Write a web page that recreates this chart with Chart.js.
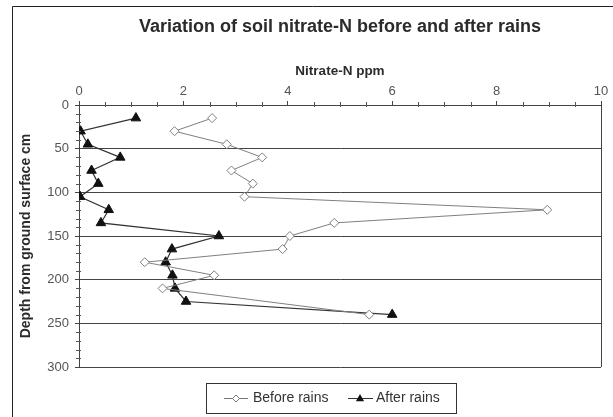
<!DOCTYPE html>
<html>
<head>
<meta charset="utf-8">
<script src="https://cdn.jsdelivr.net/npm/chart.js@4.4.1/dist/chart.umd.min.js"></script>
<style>
    html, body { margin: 0; padding: 0; background: #fff; }
    #wrap { position: relative; width: 613px; height: 417px; }
</style>
</head>
<body>
<div id="wrap"><canvas id="chart" width="613" height="417"></canvas></div>
<script>
// depth below ground surface (cm)
var depthBefore = [15, 30, 45, 60, 75, 90, 105, 120, 135, 150, 165, 180, 195, 210, 240];
var depthAfter = [15, 30, 45, 60, 75, 90, 105, 120, 135, 150, 165, 180, 195, 210, 225, 240];
// nitrate-N ppm
var nitrateBefore = [2.55, 1.83, 2.83, 3.51, 2.92, 3.33, 3.17, 8.97, 4.89, 4.04, 3.90, 1.26, 2.59, 1.60, 5.56];
var nitrateAfter = [1.09, 0.03, 0.17, 0.79, 0.24, 0.37, 0.02, 0.57, 0.42, 2.68, 1.78, 1.66, 1.79, 1.84, 2.05, 6.00];
var seriesNames = ["Before rains", "After rains"];
var chartTitle = "Variation of soil nitrate-N before and after rains";
var xTitle = "Nitrate-N ppm";
var yTitle = "Depth from ground surface cm";

var FONT = '"Liberation Sans", Arial, sans-serif';

function toPoints(xs, ys) {
    var pts = [];
    for (var i = 0; i < xs.length; i++) {
        pts.push({ x: xs[i], y: ys[i] });
    }
    return pts;
}

function diamond(ctx, x, y, r) {
    ctx.beginPath();
    ctx.moveTo(x, y - r);
    ctx.lineTo(x + r, y);
    ctx.lineTo(x, y + r);
    ctx.lineTo(x - r, y);
    ctx.closePath();
}

function triangle(ctx, x, y, r) {
    ctx.beginPath();
    ctx.moveTo(x, y - r);
    ctx.lineTo(x + r * 0.9, y + r * 0.6);
    ctx.lineTo(x - r * 0.9, y + r * 0.6);
    ctx.closePath();
}

var decor = {
    id: 'decor',
    beforeDraw: function (chart) {
        var ctx = chart.ctx;
        ctx.save();
        ctx.fillStyle = '#fff';
        ctx.fillRect(0, 0, chart.width, chart.height);
        //outer frame, only left and top edges are visible
        ctx.strokeStyle = '#222';
        ctx.lineWidth = 1;
        ctx.beginPath();
        ctx.moveTo(12.5, chart.height);
        ctx.lineTo(12.5, 6.5);
        ctx.lineTo(chart.width, 6.5);
        ctx.stroke();
        ctx.restore();
    },
    afterDraw: function (chart) {
        var ctx = chart.ctx;
        var a = chart.chartArea;
        var xs = chart.scales.x, ys = chart.scales.y;
        ctx.save();
        //plot border right and bottom
        ctx.strokeStyle = '#444';
        ctx.lineWidth = 1;
        ctx.beginPath();
        ctx.moveTo(Math.round(a.right) + 0.5, a.top);
        ctx.lineTo(Math.round(a.right) + 0.5, a.bottom);
        ctx.stroke();

        //minor ticks
        ctx.strokeStyle = '#555';
        ctx.beginPath();
        for (var v = 0.5; v < 10; v += 0.5) {
            if (v % 2 === 0) continue;
            var px = Math.round(xs.getPixelForValue(v)) + 0.5;
            ctx.moveTo(px, a.top - 3);
            ctx.lineTo(px, a.top + 2);
        }
        for (var d = 10; d < 300; d += 10) {
            if (d % 50 === 0) continue;
            var py = Math.round(ys.getPixelForValue(d)) + 0.5;
            ctx.moveTo(a.left - 3, py);
            ctx.lineTo(a.left + 2, py);
        }
        ctx.stroke();

        //title
        ctx.fillStyle = '#2b2b2b';
        ctx.font = 'bold 18px ' + FONT;
        ctx.textAlign = 'center';
        ctx.textBaseline = 'middle';
        ctx.fillText(chartTitle, (a.left + a.right) / 2, 27);

        //legend
        ctx.strokeStyle = '#333';
        ctx.strokeRect(206.5, 383.5, 250, 30);
        ctx.font = '14px ' + FONT;
        ctx.textAlign = 'left';
        ctx.fillStyle = '#333';
        var ly = 398.5;
        //before rains
        ctx.strokeStyle = '#777';
        ctx.beginPath();
        ctx.moveTo(224, ly);
        ctx.lineTo(248, ly);
        ctx.stroke();
        diamond(ctx, 236, ly, 3.5);
        ctx.fillStyle = '#fff';
        ctx.fill();
        ctx.stroke();
        ctx.fillStyle = '#333';
        ctx.fillText(seriesNames[0], 253, ly);
        //after rains
        ctx.strokeStyle = '#333';
        ctx.beginPath();
        ctx.moveTo(348, ly);
        ctx.lineTo(373, ly);
        ctx.stroke();
        triangle(ctx, 360, ly, 4.5);
        ctx.fillStyle = '#111';
        ctx.fill();
        ctx.fillStyle = '#333';
        ctx.fillText(seriesNames[1], 376, ly);
        ctx.restore();
    }
};

var ctx = document.getElementById('chart').getContext('2d');
var config = {
    type: 'scatter',
    data: {
        datasets: [{
            label: seriesNames[0],
            data: toPoints(nitrateBefore, depthBefore),
            showLine: true,
            borderColor: '#808080',
            borderWidth: 1,
            pointStyle: 'rectRot',
            pointRadius: 4.5,
            pointBackgroundColor: '#fff',
            pointBorderColor: '#808080',
            pointBorderWidth: 1,
            fill: false,
        }, {
            label: seriesNames[1],
            data: toPoints(nitrateAfter, depthAfter),
            showLine: true,
            borderColor: '#333',
            borderWidth: 1.2,
            pointStyle: 'triangle',
            pointRadius: 5.5,
            pointBackgroundColor: '#111',
            pointBorderColor: '#111',
            pointBorderWidth: 1,
            fill: false,
        }]
    },
    options: {
        responsive: false,
        animation: false,
        devicePixelRatio: 1,
        layout: {
            padding: { left: 14, top: 58, right: 12, bottom: 50 }
        },
        plugins: {
            legend: { display: false },
            title: { display: false },
            tooltip: { enabled: false },
        },
        scales: {
            x: {
                type: 'linear',
                position: 'top',
                min: 0,
                max: 10,
                ticks: {
                    stepSize: 2,
                    padding: 2,
                    color: '#555',
                    font: { family: FONT, size: 13 },
                },
                grid: {
                    drawOnChartArea: false,
                    tickLength: 4,
                    color: '#444',
                },
                border: { display: true, color: '#444' },
                title: {
                    display: true,
                    text: xTitle,
                    color: '#2b2b2b',
                    font: { family: FONT, size: 13.5, weight: 'bold' },
                    padding: { top: 5, bottom: 0 },
                },
                afterFit: function (scale) { scale.height = 47; },
            },
            y: {
                type: 'linear',
                reverse: true,
                min: 0,
                max: 300,
                ticks: {
                    stepSize: 50,
                    padding: 6,
                    color: '#555',
                    font: { family: FONT, size: 13 },
                },
                grid: {
                    tickLength: 4,
                    color: '#444',
                    lineWidth: 1,
                },
                border: { display: true, color: '#444' },
                title: {
                    display: true,
                    text: yTitle,
                    color: '#2b2b2b',
                    font: { family: FONT, size: 14, weight: 'bold' },
                    padding: { top: 4, bottom: 0 },
                },
                afterFit: function (scale) { scale.width = 65; },
            }
        }
    },
    plugins: [decor]
};
new Chart(ctx, config);
</script>
</body>
</html>
